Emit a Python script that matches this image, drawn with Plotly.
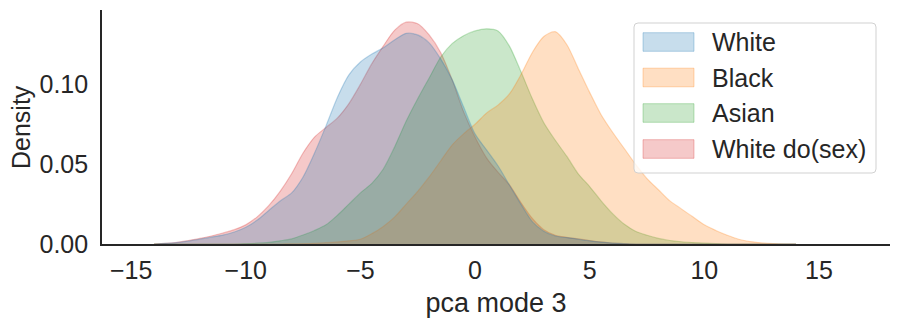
import plotly.graph_objects as go

# ---- data ----
x_grid = [-14, -13.5, -13, -12.5, -12, -11.5, -11, -10.5, -10, -9.5, -9, -8.5, -8, -7.5, -7, -6.5,
          -6, -5.5, -5, -4.5, -4, -3.5, -3, -2.5, -2, -1.5, -1, -0.5, 0, 0.5, 1, 1.5, 2, 2.5, 3,
          3.5, 4, 4.5, 5, 5.5, 6, 6.5, 7, 7.5, 8, 8.5, 9, 9.5, 10, 10.5, 11, 11.5, 12, 12.5, 13,
          13.5, 14]

white = [0, 0.0004, 0.0009, 0.0018, 0.003, 0.0043, 0.0056, 0.0075, 0.0105, 0.015, 0.021, 0.027,
         0.032, 0.042, 0.057, 0.074, 0.092, 0.106, 0.114, 0.119, 0.123, 0.128, 0.132, 0.131, 0.126,
         0.116, 0.103, 0.086, 0.069, 0.059, 0.049, 0.037, 0.025, 0.014, 0.008, 0.005, 0.004, 0.003,
         0.002, 0.0012, 0.0006, 0.0002, 0, 0, 0, 0, 0, 0, 0, 0, 0, 0, 0, 0, 0, 0, 0]

black = [0, 0, 0, 0, 0, 0, 0, 0, 0, 0, 0, 0, 0.0001, 0.0002, 0.0004, 0.0008, 0.0013, 0.002, 0.003,
         0.0065, 0.011, 0.017, 0.025, 0.033, 0.042, 0.052, 0.062, 0.069, 0.075, 0.082, 0.087, 0.094,
         0.106, 0.12, 0.13, 0.133, 0.125, 0.11, 0.095, 0.081, 0.07, 0.06, 0.05, 0.041, 0.034, 0.027,
         0.022, 0.017, 0.012, 0.0085, 0.0055, 0.003, 0.0015, 0.0007, 0.0002, 0, 0]

asian = [0, 0, 0, 0, 0, 0, 0, 0, 0.0002, 0.0005, 0.001, 0.002, 0.0032, 0.0056, 0.0085, 0.012, 0.018,
         0.025, 0.032, 0.038, 0.047, 0.061, 0.077, 0.091, 0.104, 0.117, 0.1255, 0.1305, 0.1335,
         0.1348, 0.1335, 0.124, 0.108, 0.091, 0.076, 0.065, 0.055, 0.044, 0.036, 0.027, 0.019,
         0.0125, 0.008, 0.0055, 0.0035, 0.0022, 0.0014, 0.0009, 0.0005, 0.0002, 0, 0, 0, 0, 0, 0, 0]

white_do_sex = [0, 0.0004, 0.001, 0.0022, 0.0035, 0.005, 0.0069, 0.009, 0.012, 0.017, 0.024, 0.033,
                0.044, 0.057, 0.067, 0.073, 0.079, 0.088, 0.100, 0.113, 0.124, 0.134, 0.139, 0.138,
                0.131, 0.120, 0.103, 0.083, 0.067, 0.054, 0.045, 0.037, 0.026, 0.016, 0.009, 0.0055,
                0.0042, 0.0032, 0.0022, 0.0013, 0.0006, 0.0002, 0, 0, 0, 0, 0, 0, 0, 0, 0, 0, 0, 0,
                0, 0, 0]

series_names = ["White", "Black", "Asian", "White do(sex)"]
series_values = [white, black, asian, white_do_sex]
series_rgb = [(31, 119, 180), (255, 127, 14), (44, 160, 44), (214, 39, 40)]

x_ticks = [-15, -10, -5, 0, 5, 10, 15]
x_tick_labels = ["\u221215", "\u221210", "\u22125", "0", "5", "10", "15"]
y_ticks = [0.0, 0.05, 0.10]
y_tick_labels = ["0.00", "0.05", "0.10"]
x_title = "pca mode 3"
y_title = "Density"

TEXT = "#262626"
FONT = "Liberation Sans, Arial, sans-serif"

fig = go.Figure()

# seaborn draws the last hue first
for name, vals, rgb in reversed(list(zip(series_names, series_values, series_rgb))):
    r, g, b = rgb
    fig.add_trace(go.Scatter(
        x=x_grid, y=vals, name=name, mode="lines",
        line=dict(color=f"rgba({r},{g},{b},0.28)", width=1.2, shape="spline", smoothing=0.8),
        fill="tozeroy", fillcolor=f"rgba({r},{g},{b},0.25)",
        showlegend=False, hoverinfo="x+y+name",
    ))

# page body has an 8px margin: compensate so the plot lands where the reference has it
OFF = 8
FIG_W, FIG_H = 899, 322
L, R, T, B = 102, 890, 10, 244          # plot-area edges in window pixels
W, H = R - L, B - T


def px(xp):
    return (xp - L) / W


def py(yp):
    return (B - yp) / H


# ---- manual legend (matplotlib style) ----
bx0, bx1, by0, by1, rad = 634, 876, 23, 173, 4
path = (f"M {px(bx0+rad)} {py(by0)} L {px(bx1-rad)} {py(by0)} Q {px(bx1)} {py(by0)} {px(bx1)} {py(by0+rad)} "
        f"L {px(bx1)} {py(by1-rad)} Q {px(bx1)} {py(by1)} {px(bx1-rad)} {py(by1)} "
        f"L {px(bx0+rad)} {py(by1)} Q {px(bx0)} {py(by1)} {px(bx0)} {py(by1-rad)} "
        f"L {px(bx0)} {py(by0+rad)} Q {px(bx0)} {py(by0)} {px(bx0+rad)} {py(by0)} Z")
shapes = [dict(type="path", xref="paper", yref="paper", path=path,
               fillcolor="rgba(255,255,255,0.8)", line=dict(color="rgba(204,204,204,0.9)", width=1),
               layer="above")]
annotations = []
row_y = [42, 77.5, 113, 149]
for name, rgb, yc in zip(series_names, series_rgb, row_y):
    r, g, b = rgb
    shapes.append(dict(type="rect", xref="paper", yref="paper",
                       x0=px(643), x1=px(694), y0=py(yc + 9.3), y1=py(yc - 9.3),
                       fillcolor=f"rgba({r},{g},{b},0.25)",
                       line=dict(color=f"rgba({r},{g},{b},0.3)", width=1), layer="above"))
    annotations.append(dict(xref="paper", yref="paper", x=px(710), y=py(yc), text=name,
                            showarrow=False, xanchor="left", yanchor="middle",
                            font=dict(size=25, color=TEXT, family=FONT)))

# y-axis title placed as rotated text (matplotlib-like position)
annotations.append(dict(xref="paper", yref="paper", x=px(21), y=0.5, text=y_title, textangle=-90,
                        showarrow=False, xanchor="center", yanchor="middle",
                        font=dict(size=25, color=TEXT, family=FONT)))

fig.update_layout(
    width=FIG_W, height=FIG_H,
    margin=dict(l=L - OFF, r=FIG_W - R + OFF, t=T - OFF, b=FIG_H - B + OFF),
    paper_bgcolor="white", plot_bgcolor="white",
    font=dict(family=FONT, color=TEXT, size=24),
    shapes=shapes, annotations=annotations,
    xaxis=dict(range=[-16.27, 18.1], tickvals=x_ticks, ticktext=x_tick_labels, automargin=False,
               showgrid=False, zeroline=False, showline=True, linecolor=TEXT, linewidth=1.6,
               ticks="", tickfont=dict(size=25, color=TEXT), ticklabelstandoff=3,
               title=dict(text=x_title, font=dict(size=27, color=TEXT), standoff=10)),
    yaxis=dict(range=[0, 0.1466], tickvals=y_ticks, ticktext=y_tick_labels, automargin=False,
               showgrid=False, zeroline=False, showline=True, linecolor=TEXT, linewidth=1.6,
               ticks="", tickfont=dict(size=25, color=TEXT), ticklabelstandoff=7),
)

fig.write_html("out.html")
